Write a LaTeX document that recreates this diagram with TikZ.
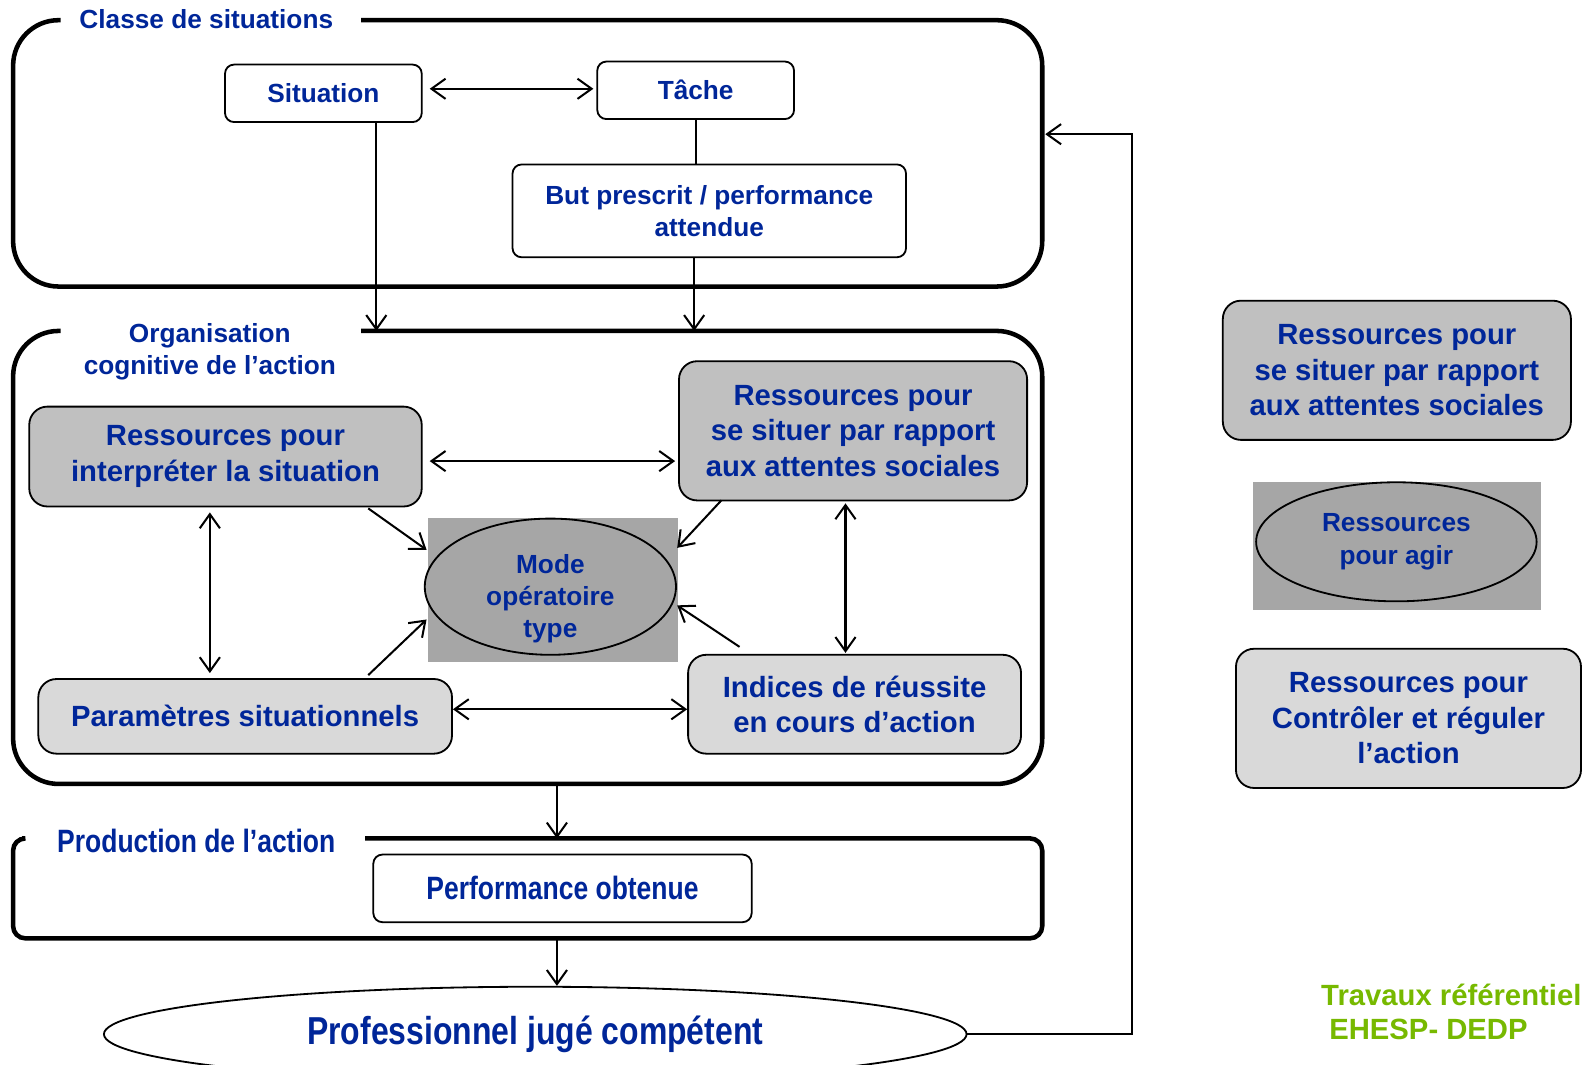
\documentclass[tikz,border=0pt]{standalone}
\usepackage{fontspec}
\setmainfont{Liberation Sans}
\newfontfamily\etroite[FakeStretch=0.82]{Liberation Sans}
\usetikzlibrary{arrows.meta,calc,shapes.geometric}
\definecolor{bleutexte}{RGB}{0,38,153}
\definecolor{vertcredit}{RGB}{119,185,0}
\definecolor{grisfonce}{RGB}{192,192,192}
\definecolor{grisclair}{RGB}{217,217,217}
\definecolor{grismoyen}{RGB}{166,166,166}
\tikzset{
  cadre/.style={line width=4.5pt, rounded corners=45pt},
  boite/.style={draw, line width=1.8pt, rounded corners=9pt, fill=white, align=center,
    inner sep=0pt, text=bleutexte, font=\bfseries\fontsize{26}{32}\selectfont},
  ressource/.style={boite, rounded corners=18pt, fill=grisfonce,
    font=\bfseries\fontsize{29}{35}\selectfont},
  ressourceclaire/.style={ressource, fill=grisclair},
  bulle/.style={ellipse, draw, line width=1.8pt, fill=grismoyen, align=center, inner sep=0pt,
    text=bleutexte, font=\bfseries\fontsize{26}{32}\selectfont},
  fond/.style={fill=grismoyen, inner sep=0pt},
  titre/.style={text=bleutexte, align=center, font=\bfseries\fontsize{26}{32}\selectfont},
  etroit/.style={font=\etroite\bfseries\fontsize{#1}{#1}\selectfont},
  fleche/.style={line width=2pt},
  >={Straight Barb[length=14pt,width=20pt]},
}
\begin{document}
\begin{tikzpicture}[x=1pt, y=-1pt]
  \useasboundingbox (0,0) rectangle (1568,1055);
  % Classe de situations
  \draw[cadre] (358,20) -- (1033,20) -- (1033,284) -- (13,284) -- (13,20) -- (60,20);
  \node[titre] (tClasse) at (204.5,19) {Classe de situations};
  \node[boite, minimum width=195pt, minimum height=57pt] (sit) at (320.5,92.5) {Situation};
  \node[boite, minimum width=195pt, minimum height=57pt] (tache) at (689.5,89.5) {Tâche};
  \node[boite, minimum width=390pt, minimum height=92pt] (but) at (703,209) {But prescrit / performance\\attendue};
  % Organisation cognitive de l'action
  \draw[cadre] (358,328) -- (1033,328) -- (1033,777) -- (13,777) -- (13,328) -- (60,328);
  \coordinate (orgHaut) at (0,328);
  \coordinate (orgBas) at (552,777);
  \node[titre] (tOrga) at (208,349) {Organisation\\cognitive de l’action};
  \node[ressource, minimum width=389pt, minimum height=99pt] (interp) at (223.5,452.5) {Ressources pour\\interpréter la situation};
  \node[ressource, minimum width=345pt, minimum height=138pt] (situer) at (845.5,427) {Ressources pour\\se situer par rapport\\aux attentes sociales};
  \node[fond, minimum width=248pt, minimum height=143pt] (modefond) at (548,584.5) {};
  \node[bulle, minimum width=249pt, minimum height=135pt] (mode) at (545.5,581.5) {};
  \node[titre] (modeTexte) at ($(mode)+(0,12)$) {Mode\\opératoire\\type};
  \node[ressourceclaire, minimum width=410pt, minimum height=74pt] (param) at (243,710) {Paramètres situationnels};
  \node[ressourceclaire, minimum width=330pt, minimum height=98pt] (indices) at (847,698) {Indices de réussite\\en cours d’action};
  % Production de l'action
  \draw[cadre, rounded corners=12pt] (362,831) -- (1033,831) -- (1033,930) -- (13,930) -- (13,831) -- (22,831);
  \coordinate (prodHaut) at (552,831);
  \coordinate (prodBas) at (552,930);
  \node[titre, etroit=32] (tProd) at (194.5,834) {Production de l’action};
  \node[boite, etroit=32, minimum width=375pt, minimum height=67pt] (perf) at (557.5,880.5) {Performance obtenue};
  \node[ellipse, draw, line width=1.8pt, fill=white, inner sep=0pt, text=bleutexte, etroit=38.6,
    minimum width=855pt, minimum height=94pt] (pro) at (530.5,1025) {Professionnel jugé compétent};
  % colonne de droite
  \node[ressource, minimum width=345pt, minimum height=138pt] (situerB) at (1384.5,367) {Ressources pour\\se situer par rapport\\aux attentes sociales};
  \node[fond, minimum width=285pt, minimum height=127pt] (agirfond) at (1384.5,541.5) {};
  \node[bulle, minimum width=278pt, minimum height=118pt] (agir) at (1384,537) {Ressources\\pour agir};
  \node[ressourceclaire, minimum width=342pt, minimum height=138pt] (controle) at (1396,712) {Ressources pour\\Contrôler et réguler\\l’action};
  \node[anchor=west, text=vertcredit, font=\bfseries\fontsize{29}{35}\selectfont] (credit) at (1306,986) {Travaux référentiel};
  \node[anchor=west, text=vertcredit, font=\bfseries\fontsize{29}{35}\selectfont] (creditB) at (1314,1020) {EHESP- DEDP};
  % liaisons du haut
  \draw[fleche, <->] ($(sit.east)+(7,-4.5)$) -- ($(tache.west)+(-3,-1.5)$);
  \draw[fleche] (tache.south) -- (tache.south |- but.north);
  \path (sit.south) ++(52.5,0) coordinate (sitPied);
  \path (but.south) ++(-15,0) coordinate (butPied);
  \draw[fleche, ->] (sitPied) -- (sitPied |- orgHaut);
  \draw[fleche, ->] (butPied) -- (butPied |- orgHaut);
  % liaisons entre ressources
  \draw[fleche, <->] ($(interp.east)+(7,4.5)$) -- ($(situer.west)+(-3,30)$);
  \draw[fleche, <->] ($(interp.south)+(-15.5,5)$) -- ($(param.north)+(-35,-5)$);
  \draw[fleche, <->] ($(situer.south)+(-7.5,2)$) -- ($(indices.north)+(-9,-1)$);
  \draw[fleche, <->] ($(param.east)+(0,-7)$) -- ($(indices.west)+(0,5)$);
  % vers le mode opératoire
  \draw[fleche, ->] ($(interp.south)+(141.5,1)$) -- ($(modefond.west)+(-1,-39.5)$);
  \draw[fleche, ->] ($(param.north)+(122,-3)$) -- ($(modefond.west)+(-1,29.5)$);
  \draw[fleche, ->] ($(situer.south)+(-130.5,-1)$) -- ($(modefond.east)+(-1,-41.5)$);
  \draw[fleche, ->] ($(indices.north)+(-114,-7)$) -- ($(modefond.east)+(-1,15.5)$);
  % production et retour
  \draw[fleche, ->] (orgBas) -- (prodHaut);
  \draw[fleche, ->] (prodBas) -- (prodBas |- pro.north);
  \coordinate (coinRetour) at (1122,133);
  \coordinate (retour) at (1036,133);
  \draw[fleche, ->] (pro.east) -- (pro.east -| coinRetour) -- (coinRetour) -- (retour);
\end{tikzpicture}
\end{document}
